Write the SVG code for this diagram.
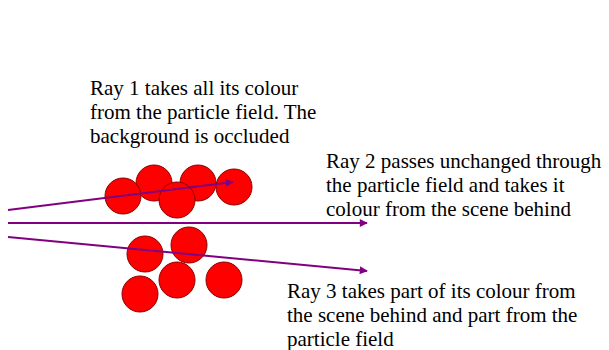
<svg xmlns="http://www.w3.org/2000/svg" width="609" height="350" viewBox="0 0 609 350">
<style>
.p{fill:#ff0000;stroke:#8b0000;stroke-width:1}
.ray{stroke:#800080;stroke-width:2;fill:none}
.t{font-size:21px;fill:#000}
</style>
<defs>
<marker id="ah" viewBox="0 0 10 10" refX="9" refY="5" markerWidth="5" markerHeight="4" markerUnits="strokeWidth" orient="auto">
<path d="M0,0 L10,5 L0,10 Z" fill="#800080"/>
</marker>
</defs>
<rect width="609" height="350" fill="#fff"/>
<g id="particles">
<circle class="p" cx="154" cy="183" r="18"/>
<circle class="p" cx="198" cy="183" r="18"/>
<circle class="p" cx="123" cy="196" r="18"/>
<circle class="p" cx="177" cy="200" r="18"/>
<circle class="p" cx="234" cy="187" r="18"/>
<circle class="p" cx="145" cy="254" r="18"/>
<circle class="p" cx="189" cy="245" r="18"/>
<circle class="p" cx="177" cy="280" r="18"/>
<circle class="p" cx="224" cy="280" r="18"/>
<circle class="p" cx="140" cy="294" r="18"/>
</g>
<g id="connectors">
<line class="ray" x1="8" y1="210" x2="233" y2="182" marker-end="url(#ah)"/>
<line class="ray" x1="8" y1="223" x2="367" y2="223" marker-end="url(#ah)"/>
<line class="ray" x1="8" y1="237" x2="367" y2="271" marker-end="url(#ah)"/>
</g>
<g font-family="Liberation Serif, Tinos, Times New Roman, serif">
<g id="label1">
<text class="t" x="90" y="95">Ray 1 takes all its colour</text>
<text class="t" x="90" y="119">from the particle field. The</text>
<text class="t" x="90" y="143">background is occluded</text>
</g>
<g id="label2">
<text class="t" x="326" y="168">Ray 2 passes unchanged through</text>
<text class="t" x="326" y="192">the particle field and takes it</text>
<text class="t" x="326" y="216">colour from the scene behind</text>
</g>
<g id="label3">
<text class="t" x="287" y="298">Ray 3 takes part of its colour from</text>
<text class="t" x="287" y="322">the scene behind and part from the</text>
<text class="t" x="287" y="346">particle field</text>
</g>
</g>
</svg>
